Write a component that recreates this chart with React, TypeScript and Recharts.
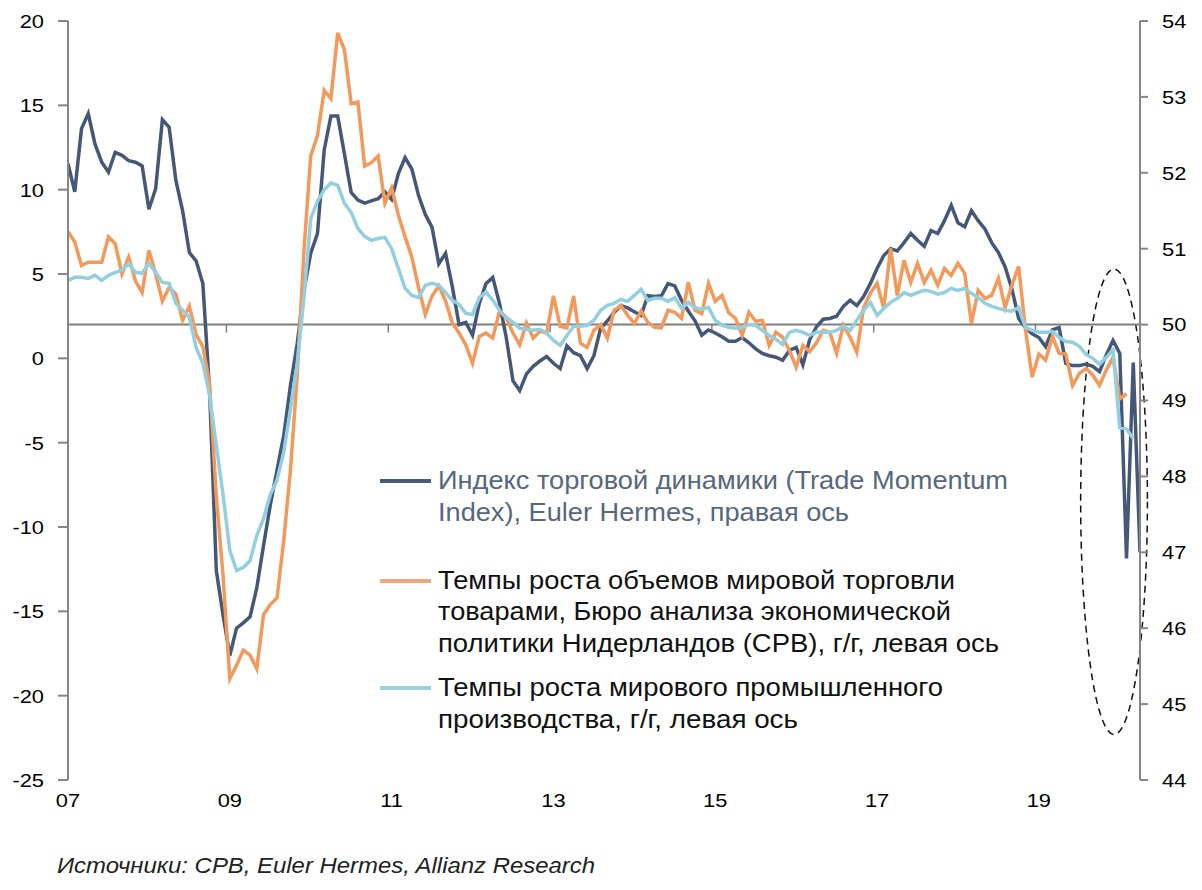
import React from 'react'
import { LineChart, Line, XAxis, YAxis, ReferenceLine, ReferenceArea } from 'recharts'

const START_YEAR = 2007

// Trade Momentum Index, Euler Hermes (right axis), monthly from Jan 2007
const tradeMomentum = [
  52.12, 51.75, 52.58, 52.78, 52.38, 52.14, 52.01, 52.27, 52.23, 52.16, 52.14, 52.09,
  51.52, 51.79, 52.7, 52.6, 51.9, 51.5, 50.95, 50.84, 50.54, 49.13, 46.76, 46.17,
  45.64, 46.0, 46.07, 46.15, 46.53, 47.09, 47.62, 48.08, 48.54, 49.2, 49.75, 50.45,
  50.94, 51.2, 52.3, 52.75, 52.75, 52.25, 51.74, 51.64, 51.6, 51.63, 51.66, 51.75,
  51.65, 51.99, 52.2, 52.05, 51.7, 51.45, 51.28, 50.8, 50.94, 50.5, 50.0, 50.03,
  49.86, 50.28, 50.54, 50.62, 50.28, 49.83, 49.26, 49.13, 49.35, 49.45, 49.52, 49.58,
  49.49, 49.42, 49.72, 49.63, 49.59, 49.42, 49.59, 49.95, 50.05, 50.16, 50.25, 50.22,
  50.17, 50.12, 50.38, 50.37, 50.38, 50.54, 50.51, 50.32, 50.18, 50.05, 49.86, 49.93,
  49.89, 49.84, 49.78, 49.78, 49.83, 49.76, 49.68, 49.62, 49.59, 49.57, 49.53, 49.66,
  49.7, 49.47, 49.8, 49.97, 50.07, 50.08, 50.11, 50.24, 50.32, 50.25, 50.37, 50.54,
  50.74, 50.91, 51.0, 50.97, 51.08, 51.2, 51.11, 51.03, 51.24, 51.2, 51.37, 51.57,
  51.34, 51.29, 51.5, 51.37, 51.26, 51.08, 50.95, 50.76, 50.47, 50.08, 49.96, 49.88,
  49.83, 49.71, 49.93, 49.96, 49.49, 49.46, 49.46, 49.48, 49.45, 49.38, 49.6, 49.79,
  49.62, 46.92, 49.5, 47.0,
]

// CPB world trade volume, % y/y (left axis)
const cpbTrade = [
  7.5, 6.9, 5.5, 5.7, 5.7, 5.7, 7.2, 6.8, 5.0, 6.0, 4.6, 3.9,
  6.4, 5.0, 3.4, 4.2, 3.8, 2.25, 3.1, 1.4, 0.7, -1.5, -8.2, -12.9,
  -19.0, -18.2, -17.3, -17.6, -18.4, -15.2, -14.6, -14.2, -10.8, -6.6, -1.0, 6.4,
  12.0, 13.2, 15.9, 15.4, 19.3, 18.3, 15.1, 15.2, 11.4, 11.6, 12.0, 9.2,
  10.1, 8.5, 7.2, 6.0, 4.2, 2.6, 3.7, 4.3, 3.4, 2.1, 1.5, 0.8,
  -0.3, 1.3, 1.5, 1.2, 2.8, 2.4, 1.5, 0.8, 2.1, 1.2, 1.6, 1.5,
  3.7, 1.9, 1.8, 3.7, 0.9, 0.65, 1.66, 2.0, 1.2, 2.85, 3.14, 2.55,
  2.07, 2.8, 2.13, 1.84, 1.8, 2.85, 2.73, 2.37, 4.5, 2.85, 2.65, 4.45,
  3.38, 3.73, 2.7, 2.37, 1.36, 2.73, 2.2, 2.25, 0.77, 1.54, 1.25, 0.47,
  -0.53, 0.77, 0.4, 0.9, 1.66, 1.54, 0.3, 1.96, 1.25, 0.36, 3.0, 3.85,
  4.45, 2.96, 6.52, 3.73, 5.81, 4.5, 5.63, 4.5, 5.22, 4.33, 5.33, 4.92,
  5.63, 5.04, 2.07, 4.03, 3.56, 3.73, 4.74, 3.02, 4.33, 5.45, 1.75, -1.1,
  0.25, -0.1, 1.3, 0.3, 0.25, -1.6, -0.9, -0.6, -1.0, -1.6, -0.7, 0.05,
  -2.4, -2.1,
]

// world industrial production, % y/y (left axis)
const industrialProd = [
  4.62, 4.8, 4.8, 4.74, 4.92, 4.62, 4.92, 5.1, 5.22, 5.63, 5.1, 5.04,
  5.63, 5.1, 4.5, 4.45, 3.26, 2.85, 2.43, 0.65, -0.3, -2.2, -5.16, -8.1,
  -11.4, -12.57, -12.4, -12.0, -10.5, -9.5, -8.1, -7.23, -5.57, -3.0, -0.3, 3.6,
  8.3, 9.3, 10.0, 10.4, 10.25, 9.2, 8.65, 7.7, 7.23, 7.0, 7.1, 7.17,
  6.5, 5.33, 4.15, 3.73, 3.6, 4.33, 4.45, 4.33, 3.9, 3.44, 3.2, 2.67,
  2.6, 3.6, 3.93, 3.44, 2.85, 2.43, 2.13, 1.78, 1.72, 1.66, 1.72, 1.48,
  1.07, 0.77, 1.36, 1.9, 1.9, 1.96, 2.25, 2.85, 3.14, 3.26, 3.5, 3.38,
  3.73, 4.1, 3.44, 3.56, 3.56, 3.38, 3.6, 2.96, 3.32, 3.02, 2.9, 3.02,
  2.25, 1.96, 1.84, 1.78, 1.84, 2.0, 1.96, 1.66, 1.36, 1.13, 0.83, 1.54,
  1.66, 1.54, 1.36, 1.54, 1.54, 1.54, 1.66, 1.9, 1.66, 2.25, 2.85, 3.32,
  2.55, 2.96, 3.32, 3.56, 3.9, 3.73, 3.9, 4.03, 3.97, 3.8, 3.9, 4.15,
  4.03, 4.15, 3.85, 3.6, 3.26, 3.08, 2.96, 2.85, 2.79, 3.02, 1.84, 1.66,
  1.54, 1.54, 1.6, 1.25, 1.0, 0.95, 0.71, 0.24, 0.0, -0.35, 0.06, 0.5,
  -4.1, -4.2, -4.75,
]

const yearTicks = [2007, 2009, 2011, 2013, 2015, 2017, 2019]
const yearLabels = ['07', '09', '11', '13', '15', '17', '19']
const leftTicks = [-25, -20, -15, -10, -5, 0, 5, 10, 15, 20]
const rightTicks = [44, 45, 46, 47, 48, 49, 50, 51, 52, 53, 54]

const legendTrade = ['Индекс торговой динамики (Trade Momentum', 'Index), Euler Hermes, правая ось']
const legendCpb = ['Темпы роста объемов мировой торговли', 'товарами, Бюро анализа экономической', 'политики Нидерландов (CPB), г/г, левая ось']
const legendIp = ['Темпы роста мирового промышленного', 'производства, г/г, левая ось']
const sourceNote = 'Источники: CPB, Euler Hermes, Allianz Research'

const data = tradeMomentum.map((v, i) => ({
  t: START_YEAR + i / 12,
  trade: v,
  cpb: i < cpbTrade.length ? cpbTrade[i] : null,
  ip: i < industrialProd.length ? industrialProd[i] : null,
}))

const FONT = '"Liberation Sans", Arial, sans-serif'
const DARK = '#46587A'
const ORANGE = '#F4995A'
const LIGHT = '#93CFE0'
const AXIS = '#868686'
const SX = 1.15

function yTick(props: any) {
  const { x, y, payload, textAnchor } = props
  return (
    <g transform={`translate(${x},${y}) scale(${SX},1)`}>
      <text x={0} y={0} dy="0.36em" textAnchor={textAnchor} fontSize={19} fill="#000" fontFamily={FONT}>
        {payload.value}
      </text>
    </g>
  )
}

function xTick(props: any) {
  const { x, y, payload } = props
  const idx = yearTicks.indexOf(payload.value)
  return (
    <g transform={`translate(${x},${y}) scale(${SX},1)`}>
      <text x={0} y={0} dy="0.72em" textAnchor="middle" fontSize={19} fill="#000" fontFamily={FONT}>
        {idx >= 0 ? yearLabels[idx] : ''}
      </text>
    </g>
  )
}

function LegendBlock() {
  const rows = [
    { lineColor: '#4A5B78', text: '#56677F', lines: legendTrade, widths: [570, 411], base: [489, 521] },
    { lineColor: '#EFA77C', text: '#111', lines: legendCpb, widths: [517, 513, 561], base: [589, 620, 652] },
    { lineColor: '#9CD0DF', text: '#111', lines: legendIp, widths: [505, 360], base: [696, 728] },
  ]
  return (
    <svg width={1202} height={890} style={{ position: 'absolute', left: 0, top: 0, pointerEvents: 'none' }}>
      {rows.map((r, i) => (
        <g key={i}>
          <line x1={380} x2={431} y1={r.base[0] - 8} y2={r.base[0] - 8} stroke={r.lineColor} strokeWidth={4} />
          {r.lines.map((s, j) => (
            <text key={j} x={438} y={r.base[j]} fontSize={25} fill={r.text} fontFamily={FONT}
              textLength={r.widths[j]} lengthAdjust="spacingAndGlyphs">
              {s}
            </text>
          ))}
        </g>
      ))}
      <text x={57} y={873} fontSize={22} fontStyle="italic" fill="#222" fontFamily={FONT}
        textLength={538} lengthAdjust="spacingAndGlyphs">
        {sourceNote}
      </text>
    </svg>
  )
}

export default function App() {
  return (
    <div style={{ position: 'absolute', left: 0, top: 0, width: 1202, height: 890, background: '#fff', fontFamily: FONT }}>
      <LineChart width={1202} height={890} data={data} margin={{ top: 21, right: 0, bottom: 80, left: 0 }}>
        <XAxis
          dataKey="t"
          type="number"
          domain={[START_YEAR, START_YEAR + (tradeMomentum.length - 1) / 12]}
          ticks={yearTicks}
          tick={xTick}
          axisLine={false}
          tickLine={false}
          tickSize={6}
          tickMargin={7}
          height={30}
          allowDataOverflow
        />
        <YAxis
          yAxisId="left"
          domain={[-25, 20]}
          ticks={leftTicks}
          tick={yTick}
          width={68}
          axisLine={{ stroke: AXIS, strokeWidth: 2 }}
          tickLine={{ stroke: AXIS, strokeWidth: 2 }}
          tickSize={10}
          tickMargin={14}
          interval={0}
        />
        <YAxis
          yAxisId="right"
          orientation="right"
          domain={[44, 54]}
          ticks={rightTicks}
          tick={yTick}
          width={62}
          axisLine={{ stroke: AXIS, strokeWidth: 2 }}
          tickLine={{ stroke: AXIS, strokeWidth: 2 }}
          tickSize={8}
          tickMargin={14}
          interval={0}
        />
        <ReferenceLine yAxisId="left" y={2} stroke="#7F7F7F" strokeWidth={2} />
        {yearTicks.slice(1).map(yr => (
          <ReferenceLine
            key={yr}
            yAxisId="left"
            segment={[{ x: yr - 0.5 / 12, y: 2 }, { x: yr - 0.5 / 12, y: 1.53 }]}
            stroke="#7F7F7F"
            strokeWidth={1.5}
          />
        ))}
        <Line yAxisId="right" type="linear" dataKey="trade" stroke={DARK} strokeWidth={3.5} dot={false} isAnimationActive={false} />
        <Line yAxisId="left" type="linear" dataKey="cpb" stroke={ORANGE} strokeWidth={3.5} dot={false} isAnimationActive={false} />
        <Line yAxisId="left" type="linear" dataKey="ip" stroke={LIGHT} strokeWidth={3.5} dot={false} isAnimationActive={false} />
        <ReferenceArea
          yAxisId="left"
          x1={START_YEAR + 150.2 / 12}
          x2={START_YEAR + 160.1 / 12}
          y1={-22.3}
          y2={5.3}
          ifOverflow="visible"
          shape={(p: any) => (
            <ellipse
              cx={p.x + p.width / 2}
              cy={p.y + p.height / 2}
              rx={Math.abs(p.width) / 2}
              ry={Math.abs(p.height) / 2}
              fill="none"
              stroke="#111"
              strokeWidth={1.5}
              strokeDasharray="7 5"
            />
          )}
        />
      </LineChart>
      <LegendBlock />
    </div>
  )
}
